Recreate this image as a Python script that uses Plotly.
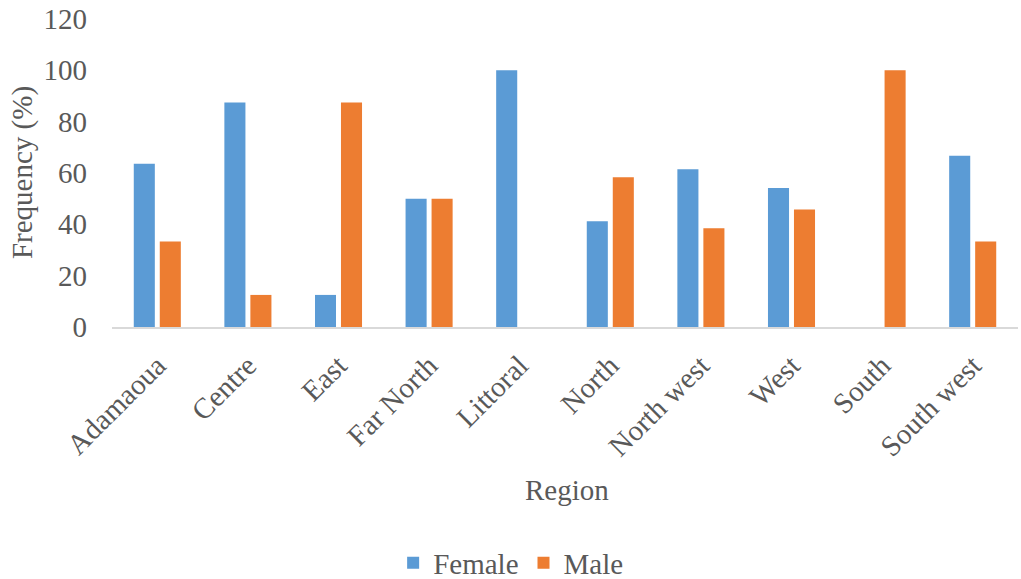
import plotly.graph_objects as go

regions = ["Adamaoua", "Centre", "East", "Far North", "Littoral", "North",
           "North west", "West", "South", "South west"]
female = [63.6, 87.5, 12.5, 50.0, 100.0, 41.2, 61.5, 54.2, 0.0, 66.7]
male = [33.3, 12.5, 87.5, 50.0, 0.0, 58.3, 38.5, 45.8, 100.0, 33.3]

FONT = "Liberation Serif, Times New Roman, serif"
GREY = "#595959"
FS = 29

fig = go.Figure()
fig.add_trace(go.Bar(name="Female", x=regions, y=female,
                     marker=dict(color="#5B9BD5", line=dict(width=0))))
fig.add_trace(go.Bar(name="Male", x=regions, y=male,
                     marker=dict(color="#ED7D31", line=dict(width=0))))

fig.update_layout(
    width=1021, height=579,
    margin=dict(l=112, r=3, t=19, b=252, autoexpand=False),
    paper_bgcolor="white", plot_bgcolor="white",
    barmode="group", bargap=0.426, bargroupgap=0.19,
    font=dict(family=FONT, color=GREY, size=FS),
    showlegend=True,
    legend=dict(orientation="h", x=0.44, xanchor="center", y=-0.766, yanchor="middle",
                font=dict(size=FS, color=GREY), itemwidth=30, tracegroupgap=0),
    xaxis=dict(showgrid=False, showline=True, linecolor="#d9d9d9", linewidth=2,
               tickangle=-45, tickfont=dict(size=FS, color=GREY), ticks="",
               ticklabelstandoff=8, automargin=False, ticklabeloverflow="allow"),
    yaxis=dict(range=[0, 120], dtick=20, showgrid=False, zeroline=False,
               showline=False, tickfont=dict(size=FS, color=GREY),
               ticklabelstandoff=24, automargin=False, ticklabeloverflow="allow"),
    annotations=[
        dict(text="Frequency (%)", xref="paper", yref="paper", x=-0.0993, y=0.5,
             showarrow=False, textangle=-90, font=dict(size=FS, color=GREY),
             xanchor="center", yanchor="middle"),
        dict(text="Region", xref="paper", yref="paper", x=0.502, y=-0.529,
             showarrow=False, font=dict(size=FS, color=GREY),
             xanchor="center", yanchor="middle"),
    ],
)

fig.write_html("out.html",
               config={"displayModeBar": False},
               post_script="document.body.style.margin='0';document.body.style.overflow='hidden';")
